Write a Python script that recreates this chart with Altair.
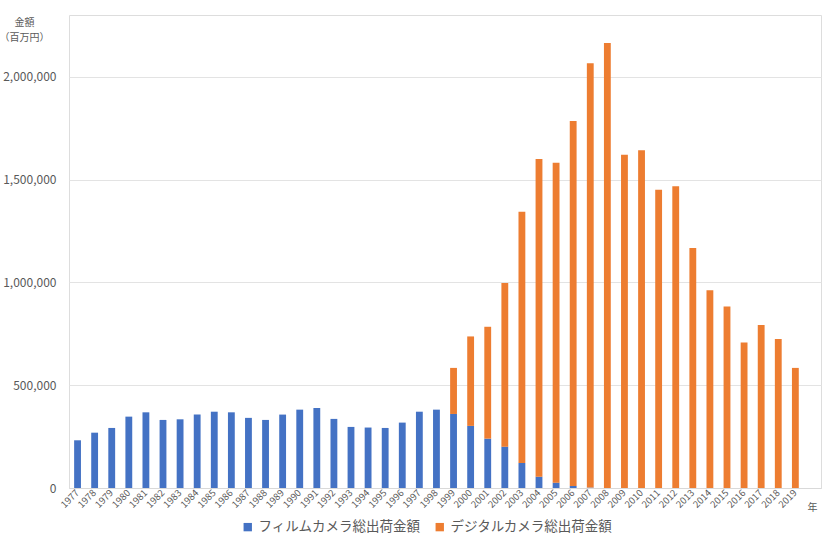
import altair as alt
import pandas as pd

years = [str(y) for y in range(1977, 2020)]
film = [232000, 269000, 292000, 347000, 368000, 331000, 334000, 357000, 371000, 368000,
        341000, 331000, 357000, 381000, 389000, 336000, 297000, 294000, 292000, 318000,
        371000, 381000, 360000, 302000, 240000, 201000, 122000, 55000, 26000, 10000,
        2000, 0, 0, 0, 0, 0, 0, 0, 0, 0, 0, 0, 0]
digital = [0] * 22 + [224000, 435000, 544000, 796000, 1221000, 1545000, 1556000, 1774000,
                      2063000, 2164000, 1621000, 1642000, 1450000, 1467000, 1167000,
                      962000, 883000, 707000, 792000, 725000, 584000]
series = ["フィルムカメラ総出荷金額", "デジタルカメラ総出荷金額"]
colors = ["#4472C4", "#ED7D31"]
y_ticks = [0, 500000, 1000000, 1500000, 2000000]
x_domain = years + ["年"]

rows = []
for i, y in enumerate(years):
    rows.append({"year": y, "series": series[0], "value": film[i], "ord": 0})
    rows.append({"year": y, "series": series[1], "value": digital[i], "ord": 1})
df = pd.DataFrame(rows)

FONT = "Noto Sans CJK JP"
GRAY = "#595959"

bars = alt.Chart(df).mark_bar().encode(
    x=alt.X("year:N", scale=alt.Scale(domain=x_domain, paddingInner=0.6, paddingOuter=0.3),
            axis=alt.Axis(title=None, labelAngle=-45, labelAlign="right", labelBaseline="middle",
                          labelFontSize=9.5, labelColor=GRAY, labelFont=FONT, ticks=False,
                          labelPadding=3, domainColor="#d9d9d9",
                          labelExpr="datum.value == '年' ? '' : datum.value")),
    y=alt.Y("value:Q", stack="zero", scale=alt.Scale(domain=[0, 2300000], nice=False),
            axis=alt.Axis(values=y_ticks, format=",.0f", title=["金額", "（百万円）"],
                          titleAngle=0, titleAlign="center", titleX=-45, titleY=7,
                          titleBaseline="middle", titleFontSize=10, titleFontWeight="normal",
                          titleColor=GRAY, titleFont=FONT, titleLineHeight=15,
                          labelFontSize=12, labelColor=GRAY, labelFont=FONT,
                          ticks=False, labelPadding=13, domain=False,
                          gridColor="#e3e3e3", gridWidth=1)),
    color=alt.Color("series:N", scale=alt.Scale(domain=series, range=colors),
                    legend=alt.Legend(title=None, orient="none", direction="horizontal",
                                      legendX=172, legendY=505, symbolType="square",
                                      symbolSize=70, labelFontSize=13.5, labelColor=GRAY,
                                      labelFont=FONT, columnPadding=12, labelOffset=4,
                                      labelLimit=0)),
    order=alt.Order("ord:Q"),
)

nen = alt.Chart(pd.DataFrame({"year": ["年"], "t": ["年"]})).mark_text(
    fontSize=10, color=GRAY, font=FONT, baseline="middle"
).encode(x=alt.X("year:N", scale=alt.Scale(domain=x_domain)), y=alt.value(493), text="t:N")

chart = alt.layer(bars, nen).properties(
    width=752, height=473,
    padding={"left": 69, "top": 15, "right": 7, "bottom": 64},
    autosize=alt.AutoSizeParams(type="none"),
).configure_view(stroke="#d9d9d9", strokeWidth=1).configure(background="white")

chart.save("out.html", embed_options={"renderer": "svg", "actions": False})
